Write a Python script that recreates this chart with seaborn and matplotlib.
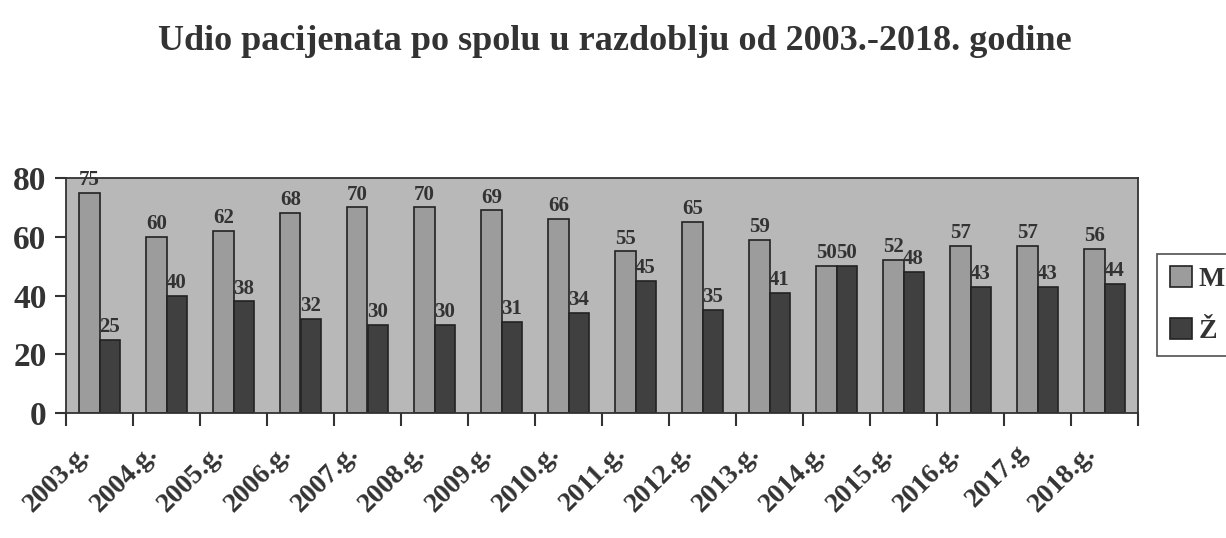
import matplotlib
matplotlib.use("Agg")
import matplotlib.pyplot as plt
import matplotlib.transforms as mtransforms
import seaborn as sns
import pandas as pd
import numpy as np

years = ["2003.g.", "2004.g.", "2005.g.", "2006.g.", "2007.g.", "2008.g.", "2009.g.", "2010.g.",
         "2011.g.", "2012.g.", "2013.g.", "2014.g.", "2015.g.", "2016.g.", "2017.g", "2018.g."]
muski = [75, 60, 62, 68, 70, 70, 69, 66, 55, 65, 59, 50, 52, 57, 57, 56]
zenski = [25, 40, 38, 32, 30, 30, 31, 34, 45, 35, 41, 50, 48, 43, 43, 44]
series = ["M", "Ž"]
yticks = [0, 20, 40, 60, 80]

sns.set_theme(style="white")
plt.rcParams["font.family"] = ["Liberation Serif", "DejaVu Serif"]

df = pd.DataFrame({
    "godina": years * 2,
    "udio": muski + zenski,
    "spol": [series[0]] * len(years) + [series[1]] * len(years),
})

fig = plt.figure(figsize=(12.26, 5.38), dpi=100)
ax = fig.add_axes([66 / 1226, 1 - 413 / 538, (1138 - 66) / 1226, (413 - 178) / 538])
ax.set_facecolor("#b8b8b8")

sns.barplot(data=df, x="godina", y="udio", hue="spol", order=years, hue_order=series,
            palette={"M": "#9c9c9c", "Ž": "#404040"}, width=0.6, gap=0,
            edgecolor="#222222", linewidth=1.2, ax=ax, legend=True)

for cont in ax.containers:
    ax.bar_label(cont, padding=2, fontsize=15, fontweight="bold", color="#333333")

ax.set_xlim(-0.5, len(years) - 0.5)
ax.set_ylim(0, 80)
ax.set_yticks(yticks)
ax.set_yticklabels([str(v) for v in yticks], fontsize=24, fontweight="bold", color="#333333")
ax.tick_params(axis="y", direction="out", length=8, width=1.5, color="#333333", pad=6, left=True)

ax.set_xticks(np.arange(len(years)))
ax.set_xticks(np.arange(-0.5, len(years)), minor=True)
ax.tick_params(axis="x", which="major", length=0, pad=20)
ax.tick_params(axis="x", which="minor", direction="out", length=9, width=1.5, color="#333333", bottom=True)
ax.set_xticklabels(years, rotation=45, ha="right", rotation_mode="anchor",
                   fontsize=20, fontweight="bold", color="#333333")
offset = mtransforms.ScaledTranslation(-22 / 100, 0, fig.dpi_scale_trans)
for lbl in ax.get_xticklabels():
    lbl.set_transform(lbl.get_transform() + offset)

ax.set_xlabel("")
ax.set_ylabel("")
for s in ax.spines.values():
    s.set_color("#333333")
    s.set_linewidth(1.3)

leg = ax.legend(loc="center left", bbox_to_anchor=(1157 / 1226, 1 - 305 / 538),
                bbox_transform=fig.transFigure, frameon=True, fancybox=False,
                prop={"family": "Liberation Serif", "weight": "bold", "size": 20},
                handlelength=0.8, handleheight=0.8, handletextpad=0.25, labelspacing=0.9,
                borderpad=0.45, borderaxespad=0)
leg.get_frame().set_edgecolor("#222222")
leg.get_frame().set_linewidth(1.2)
for t in leg.get_texts():
    t.set_color("#333333")

fig.text(615 / 1226, 1 - 42 / 538, "Udio pacijenata po spolu u razdoblju od 2003.-2018. godine",
         ha="center", va="center", fontsize=26, fontweight="bold", color="#333333")

fig.savefig("out.png", dpi=100, facecolor="white")
